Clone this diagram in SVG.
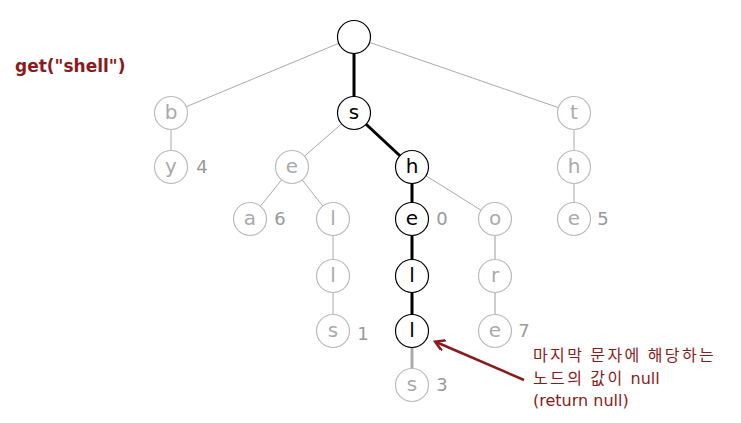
<svg xmlns="http://www.w3.org/2000/svg" width="741" height="423" viewBox="0 0 741 423">
<style>
.n circle{fill:#fff;stroke:#bbb;stroke-width:1.2}
.n text{font-family:"DejaVu Sans",sans-serif;font-size:20px;fill:#aaa;text-anchor:middle}
.n.on circle{stroke:#000;stroke-width:1.2}
.n.on text{fill:#000}
.num{font-family:"DejaVu Sans",sans-serif;font-size:18px;fill:#999;text-anchor:middle}
.thin{stroke:#aaa;stroke-width:1}
.bold{stroke:#000;stroke-width:3}
.mid{stroke:#aaa;stroke-width:3}
.lt{stroke:#ccc;stroke-width:2}
.note{font-family:"DejaVu Sans","Noto Sans CJK KR",sans-serif;font-size:16px;fill:#8b1a1a}
.kr{font-family:"Noto Sans CJK KR",sans-serif;font-size:16px;letter-spacing:2.4px}
</style>
<defs>
<marker id="ah" markerWidth="12" markerHeight="12" refX="9" refY="6" orient="auto" markerUnits="userSpaceOnUse" viewBox="0 0 12 12">
<path d="M0,0 L10,6 L0,12" fill="none" stroke="#8b1a1a" stroke-width="2.5"/>
</marker>
</defs>
<text x="15" y="72" font-family="DejaVu Sans,sans-serif" font-size="17" font-weight="bold" fill="#8b1a1a">get("shell")</text>
<g id="connectors">
<line class="thin" x1="354" y1="37" x2="171" y2="113"/>
<line class="thin" x1="354" y1="37" x2="574" y2="113"/>
<line class="bold" x1="354" y1="37" x2="354" y2="113"/>
<line class="thin" x1="171" y1="113" x2="171" y2="167"/>
<line class="thin" x1="354" y1="113" x2="292" y2="167"/>
<line class="bold" x1="354" y1="113" x2="412" y2="167"/>
<line class="thin" x1="574" y1="113" x2="574" y2="167"/>
<line class="thin" x1="574" y1="167" x2="574" y2="219"/>
<line class="thin" x1="292" y1="167" x2="250" y2="219"/>
<line class="thin" x1="292" y1="167" x2="333" y2="219"/>
<line class="thin" x1="333" y1="219" x2="333" y2="276"/>
<line class="thin" x1="333" y1="276" x2="333" y2="331"/>
<line class="bold" x1="412" y1="167" x2="412" y2="219"/>
<line class="thin" x1="412" y1="167" x2="495" y2="219"/>
<line class="bold" x1="412" y1="219" x2="412" y2="276"/>
<line class="bold" x1="412" y1="276" x2="412" y2="331"/>
<line class="mid" x1="412" y1="331" x2="412" y2="385"/>
<line class="lt" x1="495" y1="219" x2="495" y2="276"/>
<line class="lt" x1="495" y1="276" x2="495" y2="331"/>
<line x1="524" y1="380" x2="436" y2="342" stroke="#8b1a1a" stroke-width="2.5" marker-end="url(#ah)"/>
</g>
<g id="root" class="n on"><circle cx="354" cy="37" r="16.5"/></g>
<g id="s" class="n on"><circle cx="354" cy="113" r="16.5"/><text x="354" y="119">s</text></g>
<g id="b" class="n"><circle cx="171" cy="113" r="16.5"/><text x="171" y="119">b</text></g>
<g id="t" class="n"><circle cx="574" cy="113" r="16.5"/><text x="574" y="119">t</text></g>
<g id="y" class="n"><circle cx="171" cy="167" r="16.5"/><text x="171" y="173">y</text></g>
<g id="e1" class="n"><circle cx="292" cy="167" r="16.5"/><text x="292" y="173">e</text></g>
<g id="h" class="n on"><circle cx="412" cy="167" r="16.5"/><text x="412" y="173">h</text></g>
<g id="h2" class="n"><circle cx="574" cy="167" r="16.5"/><text x="574" y="173">h</text></g>
<g id="a" class="n"><circle cx="250" cy="219" r="16.5"/><text x="250" y="225">a</text></g>
<g id="l1" class="n"><circle cx="333" cy="219" r="16.5"/><text x="333" y="225">l</text></g>
<g id="e2" class="n on"><circle cx="412" cy="219" r="16.5"/><text x="412" y="225">e</text></g>
<g id="o" class="n"><circle cx="495" cy="219" r="16.5"/><text x="495" y="225">o</text></g>
<g id="e3" class="n"><circle cx="574" cy="219" r="16.5"/><text x="574" y="225">e</text></g>
<g id="l2" class="n"><circle cx="333" cy="276" r="16.5"/><text x="333" y="282">l</text></g>
<g id="l3" class="n on"><circle cx="412" cy="276" r="16.5"/><text x="412" y="282">l</text></g>
<g id="r" class="n"><circle cx="495" cy="276" r="16.5"/><text x="495" y="282">r</text></g>
<g id="s2" class="n"><circle cx="333" cy="331" r="16.5"/><text x="333" y="337">s</text></g>
<g id="l4" class="n on"><circle cx="412" cy="331" r="16.5"/><text x="412" y="337">l</text></g>
<g id="e4" class="n"><circle cx="495" cy="331" r="16.5"/><text x="495" y="337">e</text></g>
<g id="s3" class="n"><circle cx="412" cy="385" r="16.5"/><text x="412" y="391">s</text></g>
<g id="values">
<text class="num" x="202" y="173">4</text>
<text class="num" x="280" y="225">6</text>
<text class="num" x="363" y="340">1</text>
<text class="num" x="442" y="225">0</text>
<text class="num" x="603" y="225">5</text>
<text class="num" x="524" y="337">7</text>
<text class="num" x="442" y="391">3</text>
</g>
<g id="note">
<text class="note" x="533" y="361"><tspan class="kr">마지막 문자에 해당하는</tspan></text>
<text class="note" x="533" y="384"><tspan class="kr">노드의 값이 </tspan>null</text>
<text class="note" x="533" y="406">(return null)</text>
</g>
</svg>
